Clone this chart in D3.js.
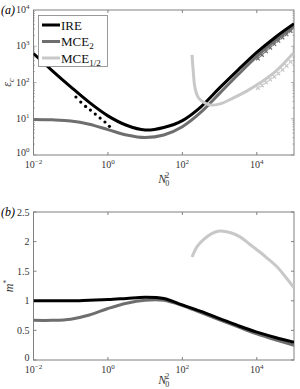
<!DOCTYPE html>
<html>
<head>
<meta charset="utf-8">
<script src="https://cdn.jsdelivr.net/npm/d3@7"></script>
<style>
  body { margin: 0; background: #fff; }
  svg { font-family: 'Liberation Serif', 'DejaVu Serif', serif; }
</style>
</head>
<body>
<svg class="chart" width="300" height="389"></svg>
<script>
// Values, x given as log10(N0^2)
const logN = [-2, -1.5, -1, -0.5, 0, 0.5, 1, 1.5, 2, 2.5, 3, 3.5, 4, 4.5, 5]

// panel (a): log10(eps_c)
const ireEps  = [2.80, 2.33, 1.88, 1.45, 1.08, 0.82, 0.69, 0.76, 0.95, 1.33, 1.85, 2.35, 2.83, 3.25, 3.62]
const mce2Eps = [0.98, 0.97, 0.94, 0.85, 0.70, 0.55, 0.48, 0.55, 0.78, 1.18, 1.70, 2.22, 2.72, 3.16, 3.55]
const mceHalfLogN = [2.26, 2.29, 2.34, 2.42, 2.56, 2.74, 3.01, 3.36, 3.74, 4.09, 4.49, 4.98]
const mceHalfEps  = [2.76, 2.34, 1.85, 1.60, 1.46, 1.38, 1.41, 1.57, 1.77, 1.99, 2.29, 2.81]

// symbols in panel (a)
const ireDotsLogN = [-0.86, -0.73, -0.60, -0.47, -0.34, -0.21, -0.08, 0.04]
const ireDotsEps  = [1.60, 1.46, 1.34, 1.24, 1.13, 1.02, 0.91, 0.79]
const mce2MarkLogN = [4.03, 4.14, 4.25, 4.36, 4.47, 4.58, 4.69, 4.80, 4.91]
const mce2MarkEps  = [2.66, 2.76, 2.86, 2.96, 3.06, 3.15, 3.24, 3.33, 3.42]
const halfMarkLogN = [4.03, 4.14, 4.25, 4.36, 4.47, 4.58, 4.69, 4.80, 4.91]
const halfMarkEps  = [1.85, 1.92, 2.00, 2.08, 2.16, 2.25, 2.35, 2.46, 2.57]

// panel (b): m*
const ireM  = [1.00, 1.00, 1.00, 1.01, 1.02, 1.04, 1.06, 1.04, 0.93, 0.82, 0.70, 0.58, 0.47, 0.38, 0.30]
const mce2M = [0.67, 0.67, 0.69, 0.76, 0.87, 0.96, 1.01, 1.01, 0.92, 0.80, 0.68, 0.56, 0.44, 0.34, 0.25]
const halfMLogN = [2.26, 2.40, 2.56, 2.80, 3.00, 3.30, 3.55, 3.80, 4.09, 4.30, 4.55, 4.80, 5.00]
const halfM     = [1.74, 1.92, 2.03, 2.14, 2.18, 2.15, 2.08, 1.96, 1.82, 1.71, 1.57, 1.38, 1.22]

const xTicks = [-2, 0, 2, 4]
const epsTicks = [0, 1, 2, 3, 4]
const mTicks = [0, 0.5, 1, 1.5, 2, 2.5]
const legendNames = ['IRE', 'MCE', 'MCE']
const legendSubs = ['', '2', '1/2']

const colIRE = '#000', colMCE2 = '#6e6e6e', colHalf = '#c8c8c8', axisCol = '#808080'

const svg = d3.select('svg.chart')
const [left, right] = [33.5, 294]

const x = d3.scaleLog().domain([1e-2, 1e5]).range([left, right])
const p = v => Math.pow(10, v)

function panel(top, bottom, id) {
  const g = svg.append('g')
  g.append('clipPath').attr('id', id)
    .append('rect').attr('x', left).attr('y', top).attr('width', right - left).attr('height', bottom - top)
  return g
}

function frame(g, top, bottom) {
  g.append('rect')
    .attr('x', left).attr('y', top).attr('width', right - left).attr('height', bottom - top)
    .attr('fill', 'none').attr('stroke', axisCol).attr('stroke-width', 1)
}

function xAxis(g, top, bottom, labelY) {
  xTicks.forEach(t => {
    const xx = x(p(t))
    g.append('line').attr('x1', xx).attr('x2', xx).attr('y1', bottom).attr('y2', bottom - 3).attr('stroke', axisCol)
    g.append('line').attr('x1', xx).attr('x2', xx).attr('y1', top).attr('y2', top + 3).attr('stroke', axisCol)
    const txt = g.append('text').attr('x', xx).attr('y', bottom + 13)
      .attr('text-anchor', 'middle').attr('font-size', 10).attr('fill', '#333')
    txt.append('tspan').text('10')
    txt.append('tspan').attr('dy', -4).attr('font-size', 7).text(t < 0 ? '\u2212' + (-t) : t)
  })
  const lab = g.append('text').attr('x', (left + right) / 2).attr('y', labelY)
    .attr('text-anchor', 'middle').attr('font-size', 12).attr('fill', '#333')
  lab.append('tspan').attr('font-style', 'italic').text('N')
  lab.append('tspan').attr('font-size', 8).attr('dy', 3).attr('dx', -1).text('0')
  lab.append('tspan').attr('font-size', 8).attr('dy', -8).attr('dx', -4).text('2')
}

const line = (sx, sy) => d3.line().x(d => sx(d[0])).y(d => sy(d[1])).curve(d3.curveCatmullRom.alpha(0.5))

// ---------- panel (a)
const [aTop, aBot] = [10, 155]
const ya = d3.scaleLog().domain([1, 1e4]).range([aBot, aTop])
const ga = panel(aTop, aBot, 'clipA')
frame(ga, aTop, aBot)

// minor + major ticks, left and right
for (let e = 0; e < 4; e++) {
  for (let k = 1; k < 10; k++) {
    const yy = ya(k * p(e))
    const len = k === 1 ? 3 : 1.5
    ga.append('line').attr('x1', left).attr('x2', left + len).attr('y1', yy).attr('y2', yy).attr('stroke', axisCol).attr('stroke-width', 0.6)
    ga.append('line').attr('x1', right).attr('x2', right - len).attr('y1', yy).attr('y2', yy).attr('stroke', axisCol).attr('stroke-width', 0.6)
  }
}
epsTicks.forEach(t => {
  const txt = ga.append('text').attr('x', left - 4).attr('y', ya(p(t)) + (t === 0 ? 1 : 3))
    .attr('text-anchor', 'end').attr('font-size', 10).attr('fill', '#333')
  txt.append('tspan').text('10')
  txt.append('tspan').attr('dy', -4).attr('font-size', 7).text(t)
})
xAxis(ga, aTop, aBot, 183)

const plotA = ga.append('g').attr('clip-path', 'url(#clipA)')
const la = line(v => x(p(v)), v => ya(p(v)))
plotA.append('path').datum(d3.zip(logN, mce2Eps)).attr('d', la)
  .attr('fill', 'none').attr('stroke', colMCE2).attr('stroke-width', 3)
plotA.append('path').datum(d3.zip(logN, ireEps)).attr('d', la)
  .attr('fill', 'none').attr('stroke', colIRE).attr('stroke-width', 3)
plotA.append('path').datum(d3.zip(mceHalfLogN, mceHalfEps)).attr('d', la)
  .attr('fill', 'none').attr('stroke', colHalf).attr('stroke-width', 3)

plotA.selectAll('circle.ire').data(d3.zip(ireDotsLogN, ireDotsEps)).enter()
  .append('circle').attr('class', 'ire')
  .attr('cx', d => x(p(d[0]))).attr('cy', d => ya(p(d[1]))).attr('r', 1.6).attr('fill', colIRE)

function crosses(data, col) {
  plotA.selectAll(null).data(data).enter().append('path')
    .attr('d', d => {
      const cx = x(p(d[0])), cy = ya(p(d[1])), r = 1.8
      return `M${cx - r},${cy - r}L${cx + r},${cy + r}M${cx - r},${cy + r}L${cx + r},${cy - r}`
    })
    .attr('stroke', col).attr('stroke-width', 1.3)
}
crosses(d3.zip(mce2MarkLogN, mce2MarkEps), colMCE2)
crosses(d3.zip(halfMarkLogN, halfMarkEps), colHalf)

// legend
const leg = ga.append('g')
leg.append('rect').attr('x', 38.5).attr('y', 15.5).attr('width', 69).attr('height', 51)
  .attr('fill', '#fff').attr('stroke', axisCol).attr('stroke-width', 0.8)
const legCols = [colIRE, colMCE2, colHalf]
legendNames.forEach((n, i) => {
  const yy = 25 + i * 16.5
  leg.append('line').attr('x1', 42).attr('x2', 60).attr('y1', yy).attr('y2', yy)
    .attr('stroke', legCols[i]).attr('stroke-width', 3)
  const t = leg.append('text').attr('x', 61).attr('y', yy + 4.5).attr('font-size', 13).attr('fill', '#111')
  t.append('tspan').text(n)
  if (legendSubs[i]) t.append('tspan').attr('dy', 3).attr('font-size', 9).text(legendSubs[i])
})

svg.append('text').attr('x', 1).attr('y', 14).attr('font-size', 12).attr('font-style', 'italic').text('(a)')
const epsLab = svg.append('text').attr('transform', `translate(11,${(aTop + aBot) / 2}) rotate(-90)`)
  .attr('text-anchor', 'middle').attr('font-size', 12).attr('fill', '#333')
epsLab.append('tspan').attr('font-style', 'italic').text('\u03b5')
epsLab.append('tspan').attr('font-style', 'italic').attr('font-size', 8).attr('dy', 3).text('c')

// ---------- panel (b)
const [bTop, bBot] = [212, 360]
const yb = d3.scaleLinear().domain([0, 2.5]).range([bBot, bTop])
const gb = panel(bTop, bBot, 'clipB')
frame(gb, bTop, bBot)
mTicks.forEach(t => {
  const yy = yb(t)
  gb.append('line').attr('x1', left).attr('x2', left + 3).attr('y1', yy).attr('y2', yy).attr('stroke', axisCol)
  gb.append('line').attr('x1', right).attr('x2', right - 3).attr('y1', yy).attr('y2', yy).attr('stroke', axisCol)
  gb.append('text').attr('x', left - 4).attr('y', yy + (t === 0 ? 1 : 3.5))
    .attr('text-anchor', 'end').attr('font-size', 10).attr('fill', '#333').text(t)
})
xAxis(gb, bTop, bBot, 384)

const plotB = gb.append('g').attr('clip-path', 'url(#clipB)')
const lb = line(v => x(p(v)), v => yb(v))
plotB.append('path').datum(d3.zip(logN, mce2M)).attr('d', lb)
  .attr('fill', 'none').attr('stroke', colMCE2).attr('stroke-width', 3)
plotB.append('path').datum(d3.zip(logN, ireM)).attr('d', lb)
  .attr('fill', 'none').attr('stroke', colIRE).attr('stroke-width', 3)
plotB.append('path').datum(d3.zip(halfMLogN, halfM)).attr('d', lb)
  .attr('fill', 'none').attr('stroke', colHalf).attr('stroke-width', 3)

svg.append('text').attr('x', 1).attr('y', 216).attr('font-size', 12).attr('font-style', 'italic').text('(b)')
const mLab = svg.append('text').attr('transform', `translate(13,${(bTop + bBot) / 2}) rotate(-90)`)
  .attr('text-anchor', 'middle').attr('font-size', 12).attr('fill', '#333')
mLab.append('tspan').attr('font-style', 'italic').text('m')
mLab.append('tspan').attr('font-size', 8).attr('dy', -4).text('*')
</script>
</body>
</html>
